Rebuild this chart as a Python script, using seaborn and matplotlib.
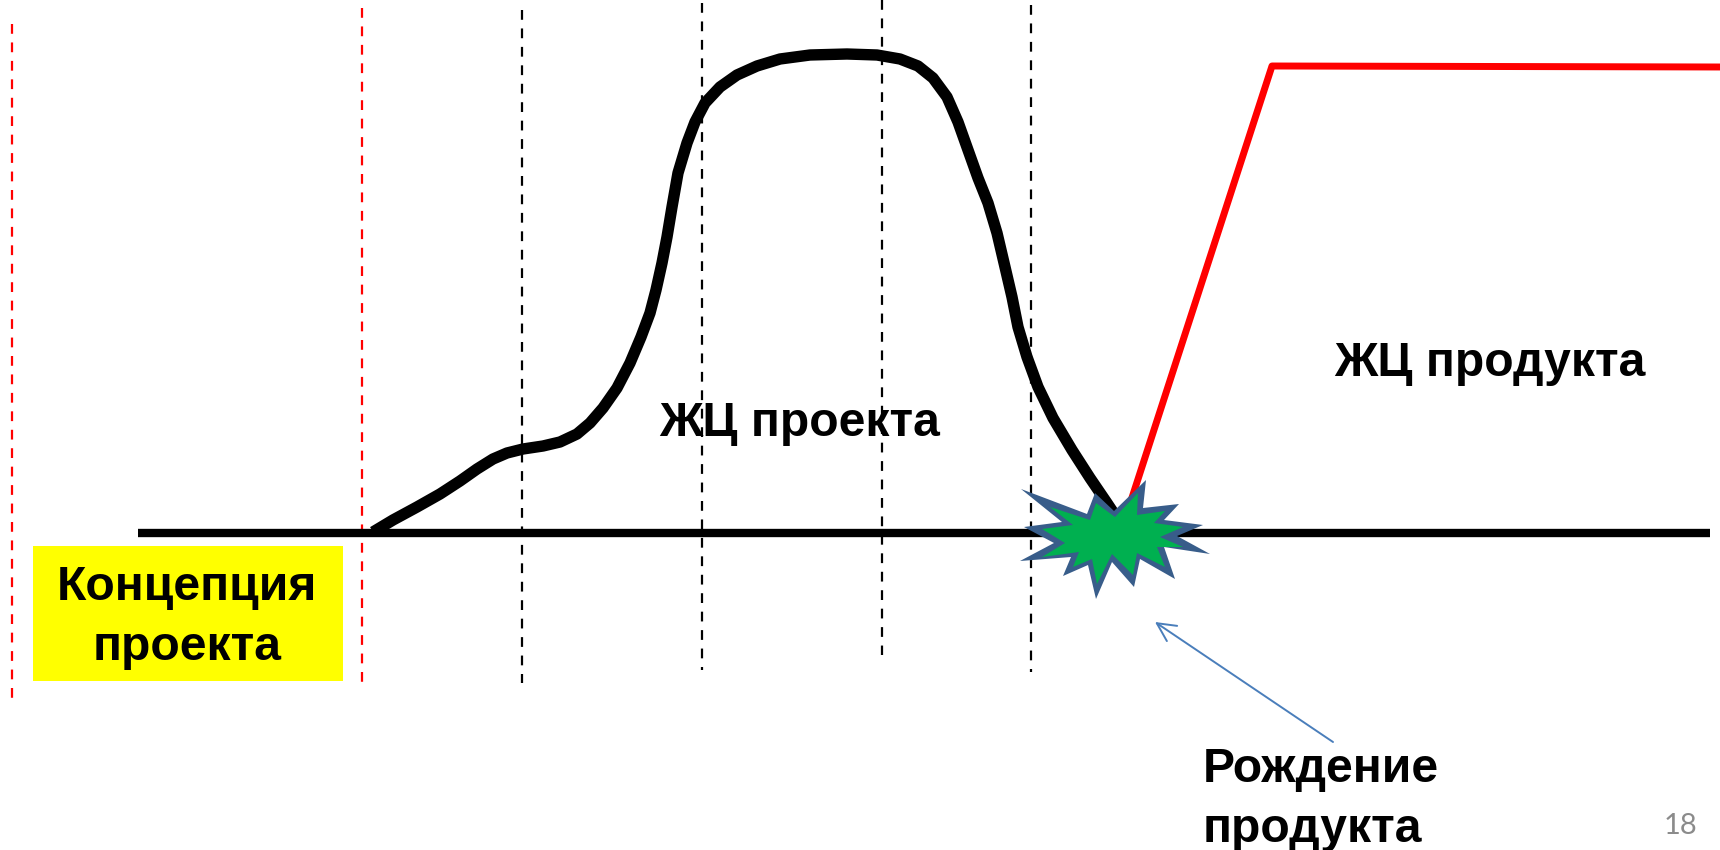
"""Схема: ЖЦ проекта и ЖЦ продукта (координаты в пикселях картинки)."""

import matplotlib
matplotlib.use("Agg")
import matplotlib.pyplot as plt
import pandas as pd
import seaborn as sns

# кривая ЖЦ проекта
project_x = [373, 393, 417, 440, 460, 477, 493, 507, 523, 543, 560, 577, 590, 603, 617, 630,
             641, 650, 656, 662, 667, 672, 678, 687, 695, 705, 720, 737, 757, 780, 810, 847,
             877, 900, 918, 933, 947, 958, 968, 978, 988, 997, 1005, 1012, 1018, 1027, 1038,
             1053, 1072, 1090, 1107, 1117]
project_y = [532, 520, 507, 494, 481, 469, 459, 453, 449, 446, 442, 434, 423, 408, 388, 363,
             337, 313, 290, 263, 237, 207, 173, 143, 122, 103, 87, 75, 66, 59, 55, 54,
             55, 59, 66, 78, 97, 122, 150, 178, 203, 233, 267, 297, 327, 357, 387,
             418, 450, 478, 503, 518]

# кривая ЖЦ продукта
product_x = [1128, 1272, 1720]
product_y = [510, 66, 67]

# ось времени
axis_x = [138, 1710]
axis_y = [533, 533]

# этапы (x, верх, низ)
red_x = [12, 362]
red_top = [24, 8]
red_bottom = [698, 682]
black_x = [522, 702, 882, 1031]
black_top = [10, 3, 0, 5]
black_bottom = [683, 670, 655, 672]

# звезда "рождение продукта": контур и заливка
star_outer_x = [1021, 1087, 1095, 1114, 1146, 1143, 1179, 1164, 1203, 1177, 1210, 1164,
                1175, 1140, 1134, 1112, 1096, 1088, 1063, 1071, 1020, 1054, 1024, 1062]
star_outer_y = [489, 514, 493, 511, 480, 508, 504, 520, 525, 536, 554, 547,
                579, 559, 587, 562, 599, 565, 576, 557, 561, 543, 527, 522]
star_inner_x = [1050, 1090, 1096, 1115, 1138, 1137, 1165, 1154, 1183, 1160, 1183, 1157,
                1165, 1137, 1133, 1112, 1097, 1092, 1073, 1079, 1042, 1065, 1042, 1073]
star_inner_y = [507, 520, 503, 517, 493, 515, 511, 523, 527, 537, 547, 547,
                567, 553, 575, 554, 584, 559, 567, 552, 557, 543, 529, 525]

# подписи
labels = ["ЖЦ проекта", "ЖЦ продукта", "Концепция", "проекта", "Рождение", "продукта"]
labels_x = [800, 1490, 187, 187, 1203, 1203]
labels_y = [423, 363, 588, 648, 769, 830]
labels_ha = ["center", "center", "center", "center", "left", "left"]


def draw_curve(ax, x, y, color, width):
    df = pd.DataFrame({"x": x, "y": y})
    sns.lineplot(data=df, x="x", y="y", sort=False, estimator=None, color=color,
                 linewidth=width, ax=ax, zorder=3,
                 solid_joinstyle="round", solid_capstyle="butt")


sns.set_theme(style="white")
plt.rcParams["font.family"] = ["Liberation Sans", "DejaVu Sans"]

fig = plt.figure(figsize=(17.2, 8.5), dpi=100)
ax = fig.add_axes([0, 0, 1, 1])

ax.vlines(red_x, red_top, red_bottom, color="#ff0000", linewidth=1.6,
          linestyles=(0, (4.4, 3.9)), zorder=2)
ax.vlines(black_x, black_top, black_bottom, color="black", linewidth=1.6,
          linestyles=(0, (4.4, 3.9)), zorder=2)

draw_curve(ax, axis_x, axis_y, "black", 6.0)
draw_curve(ax, project_x, project_y, "black", 8.2)
draw_curve(ax, product_x, product_y, "#ff0000", 5)

ax.fill(star_outer_x, star_outer_y, color="#385d8a", linewidth=0, zorder=5)
ax.fill(star_inner_x, star_inner_y, color="#00b050", linewidth=0, zorder=5.5)

ax.fill([33, 343, 343, 33], [546, 546, 681, 681], color="#ffff00", linewidth=0, zorder=1)

for text, x, y, ha in zip(labels, labels_x, labels_y, labels_ha):
    ax.text(x, y, text, ha=ha, va="center", fontsize=34.6, fontweight="bold",
            color="black", zorder=6)

ax.annotate("", xy=(1155, 622), xytext=(1333, 742),
            arrowprops=dict(arrowstyle="->,head_length=1.1,head_width=0.55", color="#4a7ebb",
                            linewidth=1.4, shrinkA=0, shrinkB=0))
ax.text(1681, 826, "18", ha="center", va="center", fontsize=21, color="#8b8b8b",
        family=["Lato", "DejaVu Sans"])

ax.set_xlim(0, 1720)
ax.set_ylim(850, 0)
ax.set_axis_off()

fig.savefig("out.png", dpi=100, facecolor="white")
